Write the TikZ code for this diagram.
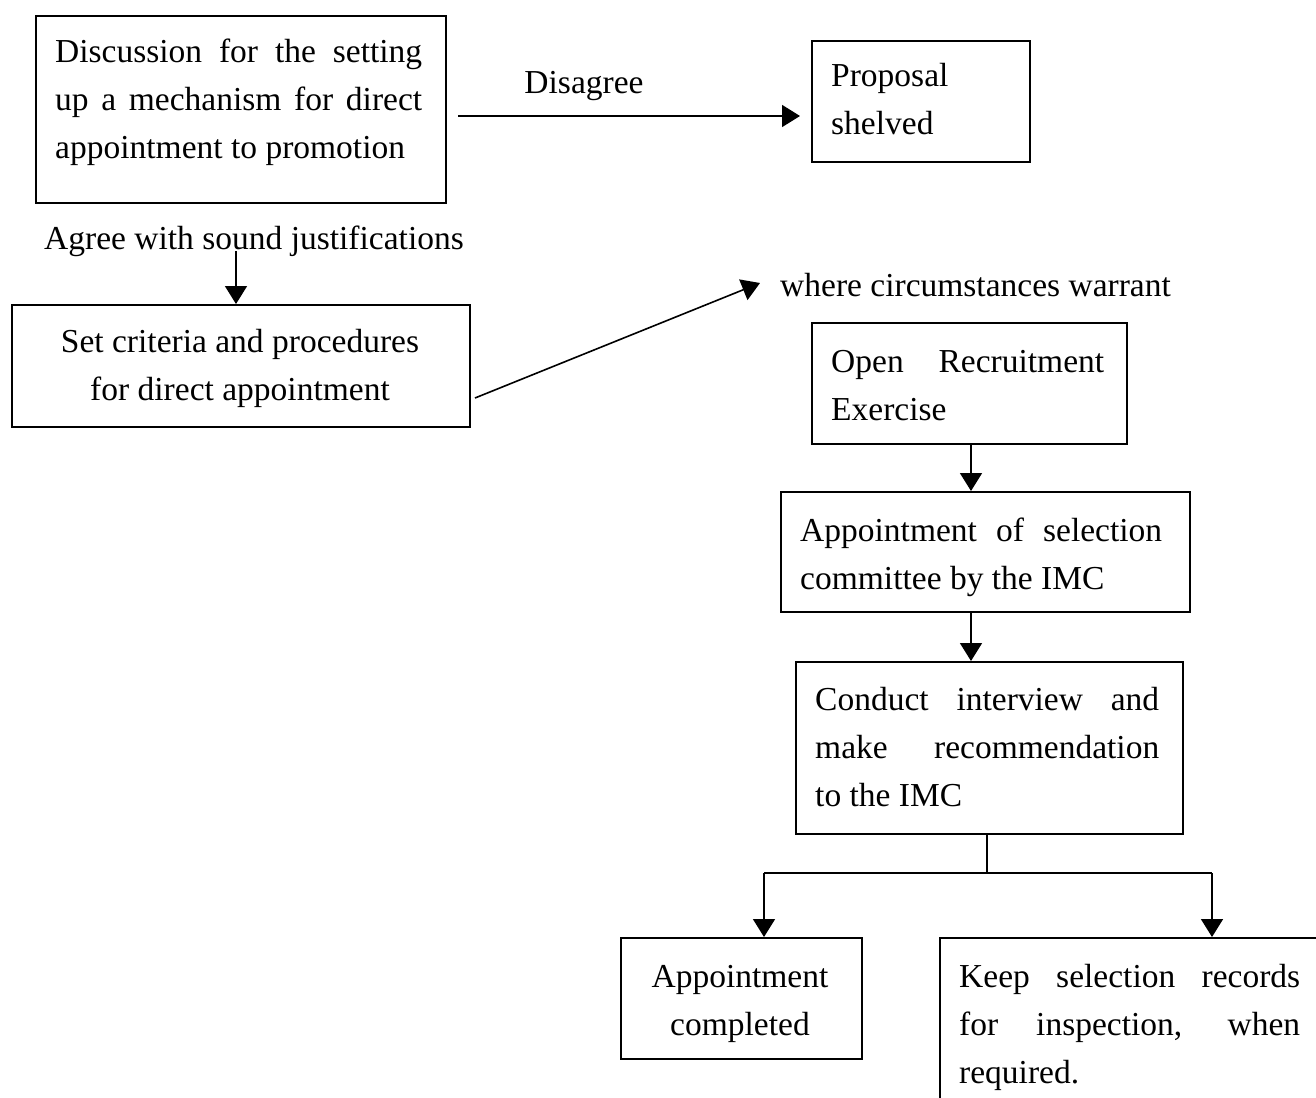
\documentclass[tikz,border=0pt]{standalone}
\usepackage{fontspec}
\setmainfont{Liberation Serif}
\usetikzlibrary{arrows.meta,calc}
\newcommand{\jline}[1]{\makebox[\linewidth][s]{#1}}
\begin{document}
\begin{tikzpicture}[x=1pt,y=-1pt,
 box/.style={draw, line width=1.6pt, inner sep=0pt, anchor=north west},
 txt/.style={inner sep=0pt, anchor=base west, font=\fontsize{33.5}{48}\selectfont},
 arr/.style={line width=1.6pt, -{Triangle[length=18pt,width=22pt]}},
 ln/.style={line width=1.6pt}]
\useasboundingbox (0,0) rectangle (1316,1097);
\clip (0,0) rectangle (1316,1097);
% boxes
\node[box, minimum width=410pt, minimum height=187pt] (b1) at (35,15) {};
\node[box, minimum width=218pt, minimum height=121pt] (prop) at (811,40) {};
\node[box, minimum width=458pt, minimum height=122pt] (setb) at (11,304) {};
\node[box, minimum width=315pt, minimum height=121pt] (open) at (811,322) {};
\node[box, minimum width=409pt, minimum height=120pt] (appt) at (780,491) {};
\node[box, minimum width=387pt, minimum height=172pt] (cond) at (795,661) {};
\node[box, minimum width=241pt, minimum height=121pt] (done) at (620,937) {};
\node[box, minimum width=420pt, minimum height=200pt] (keep) at (939,937) {};
% texts
\node[txt] (t1) at (55,63) {\parbox[t]{367pt}{\jline{Discussion for the setting}\\\jline{up a mechanism for direct}\\appointment to promotion}};
\node[txt] (tprop) at (831,87) {\parbox[t]{190pt}{Proposal\\shelved}};
\node[txt, anchor=base] (tdis) at (584,94) {Disagree};
\node[txt, anchor=base] (tagree) at (254,249) {Agree with sound justifications};
\node[txt, anchor=base] (tset) at (240,352) {\parbox[t]{440pt}{\centering Set criteria and procedures\\for direct appointment}};
\node[txt] (twhere) at (780,296) {where circumstances warrant};
\node[txt] (topen) at (831,372) {\parbox[t]{273pt}{\jline{Open Recruitment}\\Exercise}};
\node[txt] (tappt) at (800,541) {\parbox[t]{362pt}{\jline{Appointment of selection}\\committee by the IMC}};
\node[txt] (tcond) at (815,710) {\parbox[t]{344pt}{\jline{Conduct interview and}\\\jline{make recommendation}\\to the IMC}};
\node[txt, anchor=base] (tdone) at (740,987) {\parbox[t]{230pt}{\centering Appointment\\completed}};
\node[txt] (tkeep) at (959,987) {\parbox[t]{341pt}{\jline{Keep selection records}\\\jline{for inspection, when}\\required.}};
% connectors
\coordinate (dstart) at (458,116);
\draw[arr] (dstart) -- ([xshift=-11pt]prop.west |- dstart);
\coordinate (astart) at (236,251);
\draw[arr] (astart) -- (astart |- setb.north);
\coordinate (gs) at (475,398);
\coordinate (ge) at (760,283);
\draw[arr] (gs) -- (ge);
\coordinate (c1) at (971,0);
\draw[arr] (c1 |- open.south) -- (c1 |- appt.north);
\draw[arr] (c1 |- appt.south) -- (c1 |- cond.north);
\coordinate (c2) at (987,873);
\draw[ln] (c2 |- cond.south) -- (c2);
\coordinate (cl) at (764,873);
\coordinate (cr) at (1212,873);
\draw[ln] (cl) -- (cr);
\draw[arr] (cl) -- (cl |- done.north);
\draw[arr] (cr) -- (cr |- keep.north);
\end{tikzpicture}
\end{document}
